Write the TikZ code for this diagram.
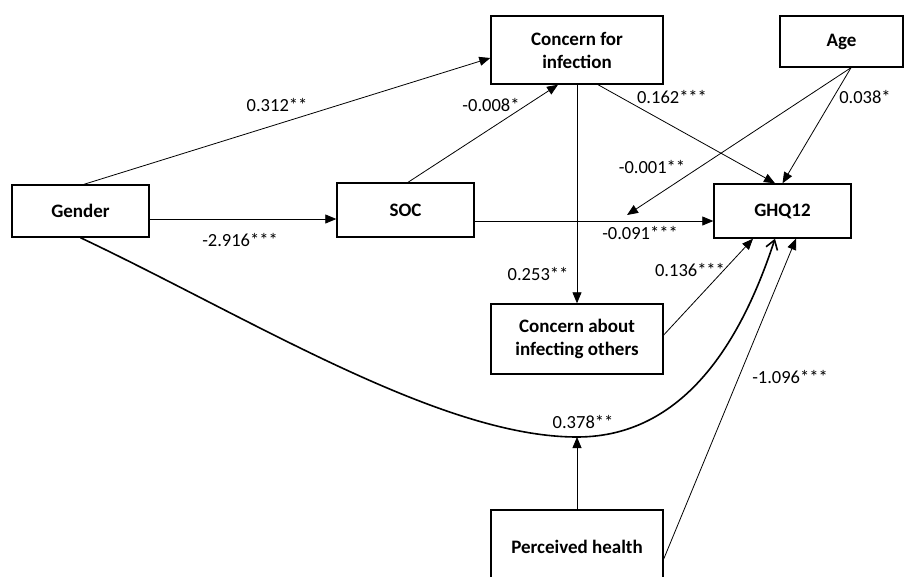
\documentclass[tikz,border=0pt]{standalone}
\usepackage{fontspec}
\setmainfont{Carlito}
\usetikzlibrary{arrows.meta,calc}
\begin{document}
\begin{tikzpicture}[x=1pt,y=-1pt,
  box/.style={draw,line width=1.4pt,inner sep=0pt,align=center,font=\fontsize{19}{23}\selectfont\bfseries},
  conn/.style={line width=0.8pt,-{Triangle[length=11pt,width=9pt]}},
  lbl/.style={inner sep=0pt,font=\fontsize{18.5}{22}\selectfont}]
\useasboundingbox (0,0) rectangle (908,576);
\clip (0,0) rectangle (908,576);
\node[box,minimum width=172pt,minimum height=68pt] (conc) at (577,50) {Concern for\\infection};
\node[box,minimum width=123pt,minimum height=51pt] (age) at (841.5,41.5) {Age};
\node[box,minimum width=137pt,minimum height=52pt] (gender) at (80.5,211) {Gender};
\node[box,minimum width=137pt,minimum height=54pt] (soc) at (405.5,210) {SOC};
\node[box,minimum width=137pt,minimum height=54pt] (ghq) at (782.5,211) {GHQ12};
\node[box,minimum width=172pt,minimum height=70pt] (cao) at (577,339) {Concern about\\infecting others};
\node[box,minimum width=172pt,minimum height=74pt] (ph) at (577,547) {Perceived health};
\coordinate (mod) at (627,215);
\coordinate (bot) at (577,437);
% connectors
\draw[conn] ([xshift=3.5pt]gender.north) -- ([yshift=-8pt]conc.west);
\draw[conn] ([xshift=2.5pt]soc.north) -- ([xshift=-19pt]conc.south);
\draw[conn] ([xshift=21pt]conc.south) -- ([xshift=-7.5pt]ghq.north);
\draw[conn] ([xshift=9.5pt]age.south) -- (ghq.north);
\draw[conn] ([xshift=9.5pt]age.south) -- (mod);
\draw[conn] ([yshift=-11pt]soc.east) -- ([yshift=-11pt]soc.east -| ghq.west);
\draw[conn] ([yshift=-8pt]gender.east) -- ([yshift=-8pt]gender.east -| soc.west);
\draw[conn] (conc.south) -- (cao.north);
\draw[conn] ([yshift=4pt]cao.east) -- ([xshift=-29.5pt]ghq.south);
\draw[conn] (ph.north) -- (bot);
\draw[conn] ([yshift=-12pt]ph.east) -- ([xshift=13.5pt]ghq.south);
\draw[line width=1.6pt,-{Straight Barb[length=9pt,width=12pt]}] (gender.south) .. controls (250,318) and (440,437) .. (bot) .. controls (690,437) and (745,330) .. ([xshift=-7.5pt]ghq.south);
% labels
\node[lbl] (l1) at (277,105) {0.312**};
\node[lbl] (l2) at (491,105) {-0.008*};
\node[lbl] (l3) at (672,97) {0.162***};
\node[lbl] (l4) at (865,97) {0.038*};
\node[lbl] (l5) at (652,167) {-0.001**};
\node[lbl] (l6) at (240,240) {-2.916***};
\node[lbl] (l7) at (640,233) {-0.091***};
\node[lbl] (l8) at (538,274) {0.253**};
\node[lbl] (l9) at (690,270) {0.136***};
\node[lbl] (l10) at (583,422) {0.378**};
\node[lbl] (l11) at (790,377) {-1.096***};
\end{tikzpicture}
\end{document}
